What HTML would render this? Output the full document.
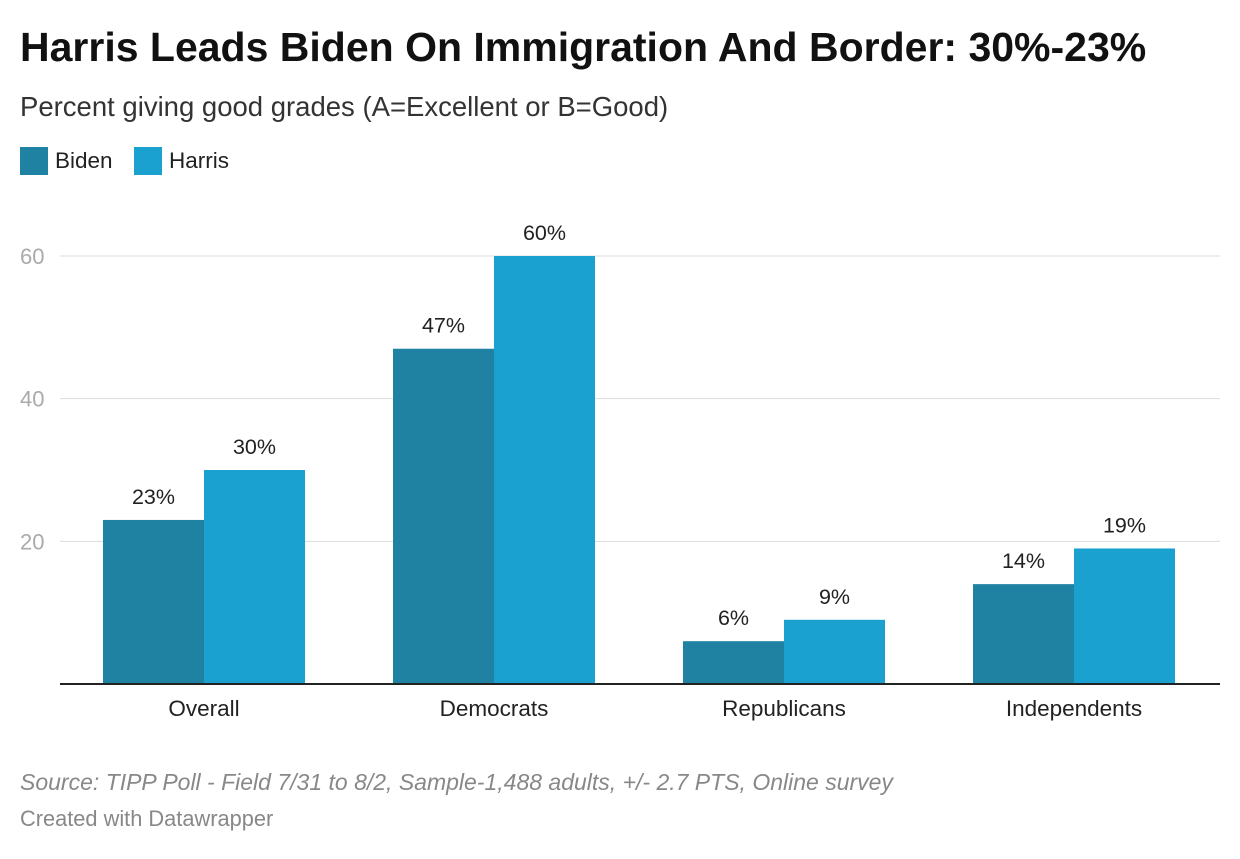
<!DOCTYPE html>
<html><head><meta charset="utf-8"><style>
body{margin:0;background:#fff;width:1240px;height:854px;overflow:hidden;font-family:"Liberation Sans",sans-serif;}
</style></head><body>
<svg width="1240" height="854" xmlns="http://www.w3.org/2000/svg" font-family="Liberation Sans, sans-serif">
<text x="20" y="61" font-size="41" font-weight="bold" fill="#111">Harris Leads Biden On Immigration And Border: 30%-23%</text>
<text x="20" y="116" font-size="27.5" fill="#333">Percent giving good grades (A=Excellent or B=Good)</text>
<g>
<rect x="20" y="147" width="28" height="28" fill="#1f82a3"/>
<text x="55" y="168" font-size="22.5" fill="#222">Biden</text>
<rect x="134" y="147" width="28" height="28" fill="#1aa1cf"/>
<text x="169" y="168" font-size="22.5" fill="#222">Harris</text>
</g>
<g id="plot"></g>
<text x="20" y="790" font-size="23" font-style="italic" fill="#888">Source: TIPP Poll - Field 7/31 to 8/2, Sample-1,488 adults, +/- 2.7 PTS, Online survey</text>
<text x="20" y="826" font-size="21.8" fill="#888">Created with Datawrapper</text>
</svg>
<script>
const categories=["Overall","Democrats","Republicans","Independents"];
const biden=[23,47,6,14];
const harris=[30,60,9,19];
const ticks=[20,40,60];
const NS="http://www.w3.org/2000/svg";
const g=document.getElementById('plot');
const y=v=>684-v*(428/60);
const cx=i=>204+i*290;
const bw=101;
function mk(t,a){const e=document.createElementNS(NS,t);for(const k in a)e.setAttribute(k,a[k]);g.appendChild(e);return e;}
ticks.forEach(t=>{
 const l=mk('line',{x1:60,x2:1220,y1:y(t),y2:y(t),stroke:'#ddd','stroke-width':1});
 
 
 const tx=mk('text',{x:20,y:y(t)+8,'font-size':22,fill:'#aaa'});tx.textContent=t;
 
 
});
function bar(v,x,color,name){
 const r=mk('rect',{x:x,y:y(v),width:bw,height:684-y(v),fill:color});
 
 
 const t=mk('text',{x:x+bw/2,y:y(v)-16,'font-size':21.5,fill:'#222','text-anchor':'middle'});t.textContent=v+'%';
 
 
}
categories.forEach((c,i)=>{
 bar(biden[i],cx(i)-bw,'#1f82a3','bar-biden-'+c.toLowerCase());
 bar(harris[i],cx(i),'#1aa1cf','bar-harris-'+c.toLowerCase());
 const t=mk('text',{x:cx(i),y:716,'font-size':22.5,fill:'#222','text-anchor':'middle'});t.textContent=c;
 
 
});
const ax=mk('line',{x1:60,x2:1220,y1:684,y2:684,stroke:'#222','stroke-width':2});


</script>
</body></html>
